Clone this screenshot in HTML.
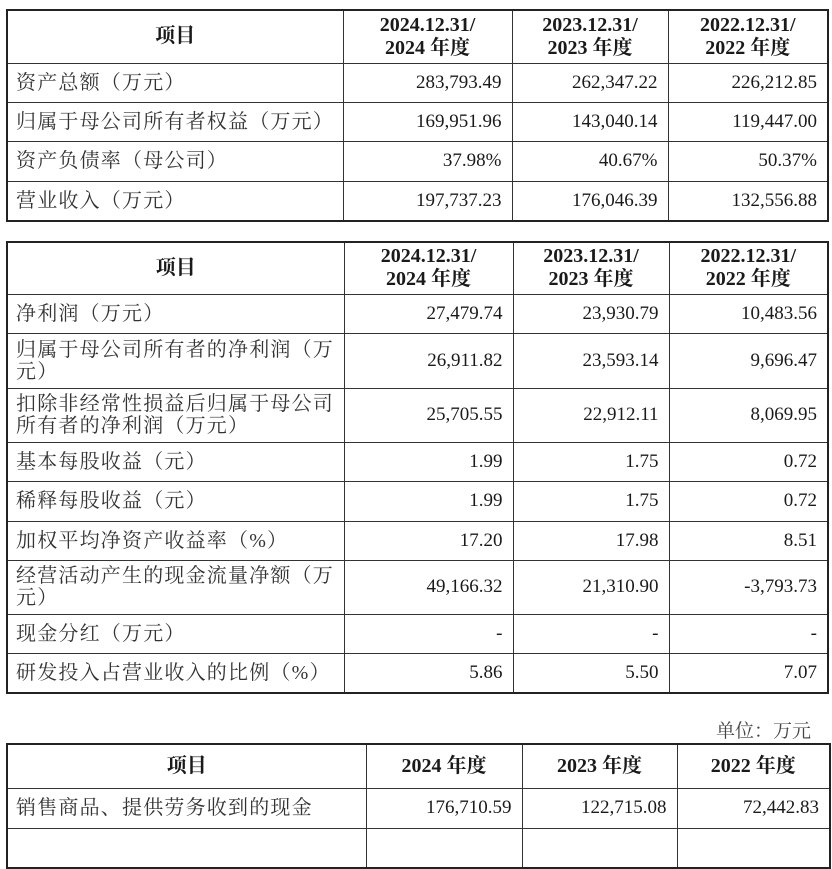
<!DOCTYPE html>
<html><head><meta charset="utf-8"><style>
body{margin:0;width:832px;height:827px;background:#fff;overflow:hidden;position:relative;font-family:"Liberation Serif","Noto Serif CJK SC",serif;color:#1a1a1a}
table{position:absolute;left:6px;border-collapse:collapse;border:2.5px solid #222;table-layout:fixed}
td{border:1px solid #333;padding:0 10px 0 8px;font-size:19px;line-height:22px;text-align:right;vertical-align:middle;overflow:hidden}
td.l{text-align:left;font-family:"Liberation Serif","Noto Serif CJK SC",serif;color:#333;font-size:20px;letter-spacing:1.2px;padding-right:2px}
th{border:1px solid #333;font-size:20px;line-height:23px;font-weight:bold;text-align:center;vertical-align:middle;padding:0}
.unit{position:absolute;left:716px;top:716px;font-size:19px;font-family:"Liberation Serif","Noto Serif CJK SC",serif;color:#444}
</style></head><body>
<table style="top:9px;width:821px">
<colgroup><col style="width:336px"><col style="width:169px"><col style="width:156px"><col style="width:160px"></colgroup>
<tr style="height:53px"><th>项目</th><th>2024.12.31/<br>2024 年度</th><th>2023.12.31/<br>2023 年度</th><th>2022.12.31/<br>2022 年度</th></tr>
<tr style="height:39px"><td class="l">资产总额（万元）</td><td>283,793.49</td><td>262,347.22</td><td>226,212.85</td></tr>
<tr style="height:39px"><td class="l">归属于母公司所有者权益（万元）</td><td>169,951.96</td><td>143,040.14</td><td>119,447.00</td></tr>
<tr style="height:40px"><td class="l">资产负债率（母公司）</td><td>37.98%</td><td>40.67%</td><td>50.37%</td></tr>
<tr style="height:40px"><td class="l">营业收入（万元）</td><td>197,737.23</td><td>176,046.39</td><td>132,556.88</td></tr>
</table>
<table style="top:241px;width:821px">
<colgroup><col style="width:337px"><col style="width:169px"><col style="width:156px"><col style="width:159px"></colgroup>
<tr style="height:52px"><th>项目</th><th>2024.12.31/<br>2024 年度</th><th>2023.12.31/<br>2023 年度</th><th>2022.12.31/<br>2022 年度</th></tr>
<tr style="height:39px"><td class="l">净利润（万元）</td><td>27,479.74</td><td>23,930.79</td><td>10,483.56</td></tr>
<tr style="height:55px"><td class="l">归属于母公司所有者的净利润（万<br>元）</td><td>26,911.82</td><td>23,593.14</td><td>9,696.47</td></tr>
<tr style="height:54px"><td class="l">扣除非经常性损益后归属于母公司<br>所有者的净利润（万元）</td><td>25,705.55</td><td>22,912.11</td><td>8,069.95</td></tr>
<tr style="height:39px"><td class="l">基本每股收益（元）</td><td>1.99</td><td>1.75</td><td>0.72</td></tr>
<tr style="height:40px"><td class="l">稀释每股收益（元）</td><td>1.99</td><td>1.75</td><td>0.72</td></tr>
<tr style="height:39px"><td class="l">加权平均净资产收益率（%）</td><td>17.20</td><td>17.98</td><td>8.51</td></tr>
<tr style="height:54px"><td class="l">经营活动产生的现金流量净额（万<br>元）</td><td>49,166.32</td><td>21,310.90</td><td>-3,793.73</td></tr>
<tr style="height:39px"><td class="l">现金分红（万元）</td><td>-</td><td>-</td><td>-</td></tr>
<tr style="height:40px"><td class="l">研发投入占营业收入的比例（%）</td><td>5.86</td><td>5.50</td><td>7.07</td></tr>
</table>
<div class="unit">单位：万元</div>
<table style="top:743px;width:823px">
<colgroup><col style="width:359px"><col style="width:156px"><col style="width:155px"><col style="width:153px"></colgroup>
<tr style="height:44px"><th>项目</th><th>2024 年度</th><th>2023 年度</th><th>2022 年度</th></tr>
<tr style="height:40px"><td class="l">销售商品、提供劳务收到的现金</td><td>176,710.59</td><td>122,715.08</td><td>72,442.83</td></tr>
<tr style="height:40px"><td class="l"></td><td></td><td></td><td></td></tr>
</table>
</body></html>
